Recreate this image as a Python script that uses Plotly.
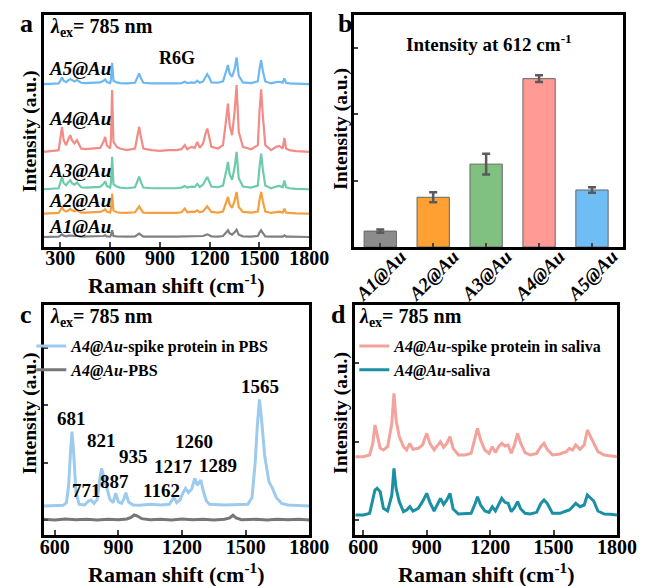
import plotly.graph_objects as go

FONT = "Liberation Serif"

# ---------------- Panel a: R6G spectra ----------------
shift_a = [200, 290, 300, 310, 320, 335, 350, 360, 370, 385, 400, 410, 425, 450, 500, 540, 560, 570, 580, 600,
           605, 612, 620, 640, 660, 700, 750, 765, 775, 785, 800, 850, 900, 950, 1000, 1030, 1050, 1065, 1090, 1110,
           1125, 1140, 1160, 1175, 1185, 1195, 1210, 1250, 1280, 1300, 1310, 1320, 1335, 1350, 1362, 1375, 1400, 1450,
           1490, 1500, 1510, 1520, 1535, 1570, 1590, 1600, 1620, 1640, 1650, 1660, 1680, 1720, 1800]
a5_int = [0, 2, 10, 20, 10, 6, 12, 15, 12, 8, 12, 8, 4, 3, 4, 5, 10, 14, 6, 3, 14, 64, 10, 5, 3, 2, 4, 20, 32, 18,
          4, 2, 1, 2, 2, 3, 7, 3, 5, 4, 10, 4, 8, 22, 30, 22, 5, 4, 8, 40, 57, 32, 22, 45, 80, 25, 5, 3, 8, 45,
          72, 40, 8, 2, 5, 6, 7, 4, 17, 4, 2, 1, 0]
a4_int = [0, 5, 40, 75, 35, 20, 40, 50, 35, 25, 35, 25, 10, 8, 10, 12, 30, 45, 20, 10, 40, 185, 30, 15, 10, 5, 10,
          45, 75, 45, 10, 5, 3, 5, 5, 8, 20, 8, 15, 12, 30, 12, 25, 55, 70, 50, 15, 10, 20, 100, 145, 80, 50, 120,
          200, 60, 15, 8, 20, 120, 187, 110, 20, 5, 12, 15, 18, 10, 42, 10, 5, 2, 0]
a3_int = [0, 3, 20, 37, 18, 12, 22, 27, 18, 14, 20, 13, 6, 5, 6, 7, 16, 24, 10, 5, 20, 97, 15, 8, 5, 3, 6, 25, 38,
          22, 5, 3, 2, 3, 3, 5, 10, 5, 8, 7, 16, 7, 14, 30, 37, 26, 8, 6, 11, 55, 82, 45, 28, 65, 112, 33, 8, 5, 11,
          65, 107, 60, 11, 3, 7, 8, 10, 6, 26, 6, 3, 1, 0]
a2_int = [0, 2, 10, 20, 10, 6, 10, 14, 10, 7, 10, 7, 3, 3, 4, 5, 9, 13, 6, 3, 13, 60, 9, 4, 3, 2, 4, 14, 22, 13, 3,
          2, 1, 2, 2, 4, 15, 4, 6, 5, 10, 4, 7, 16, 22, 15, 5, 3, 6, 35, 50, 28, 17, 38, 65, 20, 5, 3, 6, 40, 65, 37,
          6, 2, 4, 5, 6, 3, 15, 3, 2, 1, 0]
a1_int = [0, 1, 4, 8, 4, 2, 4, 5, 4, 3, 4, 3, 1, 1, 2, 2, 3, 5, 2, 1, 5, 20, 3, 2, 1, 1, 2, 6, 10, 6, 1, 1, 0, 1, 1,
          1, 3, 1, 2, 2, 3, 2, 3, 6, 8, 6, 2, 1, 3, 14, 20, 11, 7, 14, 22, 7, 2, 1, 3, 13, 20, 12, 2, 1, 1, 2, 2, 1,
          5, 1, 1, 0, 0]
a_names = ["A5@Au", "A4@Au", "A3@Au", "A2@Au", "A1@Au"]
a_offsets = [488, 285, 173, 100, 30]
a_colors = ["#6CB8F0", "#F28C86", "#6CCBA8", "#F5A040", "#808080"]
a_label_y = [535, 385, 230, 140, 60]

# ---------------- Panel b: bar chart ----------------
samples = ["A1@Au", "A2@Au", "A3@Au", "A4@Au", "A5@Au"]
intensity_612 = [0.24, 0.75, 1.25, 2.54, 0.86]
intensity_err = [0.025, 0.076, 0.157, 0.05, 0.04]
bar_colors = ["#8C8C8C", "#FFA033", "#80C080", "#FF9A94", "#6EBEF5"]

# ---------------- Panel c: spike protein in PBS ----------------
shift_c = [548, 600, 640, 655, 665, 675, 681, 688, 700, 715, 740, 760, 771, 785, 800, 812, 821, 830, 845, 860, 875,
           887, 900, 915, 925, 935, 948, 970, 1000, 1050, 1100, 1140, 1155, 1162, 1175, 1190, 1205, 1217, 1230, 1245,
           1260, 1272, 1289, 1300, 1315, 1330, 1400, 1480, 1510, 1530, 1545, 1555, 1565, 1575, 1590, 1610, 1625, 1645,
           1670, 1700, 1800]
spike_pbs = [0, 0, 2, 10, 60, 170, 223, 170, 40, 5, 3, 15, 18, 8, 20, 80, 113, 90, 55, 20, 10, 38, 12, 8, 20, 40, 12,
             3, 2, 5, 3, 5, 20, 26, 10, 18, 40, 53, 40, 50, 83, 62, 78, 45, 15, 5, 3, 3, 5, 25, 130, 240, 320, 260,
             150, 73, 55, 25, 8, 3, 0]
shift_pbs = [548, 600, 650, 700, 750, 800, 850, 900, 940, 960, 975, 990, 1010, 1050, 1100, 1150, 1200, 1250, 1300,
             1350, 1400, 1425, 1440, 1455, 1480, 1550, 1600, 1650, 1700, 1750, 1800]
pbs_only = [2, 0, 3, 1, 2, 0, 2, 1, 3, 8, 15, 12, 4, 1, 2, 0, 3, 1, 2, 0, 2, 6, 14, 6, 1, 2, 0, 2, 1, 2, 0]
c_offsets = [87, 45]
c_peak_labels = ["681", "771", "821", "887", "935", "1162", "1217", "1260", "1289", "1565"]
c_label_x = [678, 751, 820, 882, 973, 1105, 1161, 1256, 1370, 1569]
c_label_y = [350, 135, 285, 160, 235, 135, 205, 280, 210, 445]

# ---------------- Panel d: spike protein in saliva ----------------
shift_d = [562, 600, 630, 645, 655, 665, 680, 695, 715, 735, 745, 755, 770, 790, 805, 820, 835, 860, 880, 900, 915,
           935, 955, 965, 980, 995, 1010, 1025, 1050, 1080, 1110, 1130, 1140, 1155, 1175, 1195, 1210, 1225, 1240,
           1255, 1270, 1285, 1300, 1315, 1330, 1345, 1365, 1390, 1420, 1440, 1455, 1470, 1495, 1530, 1560, 1575,
           1590, 1605, 1625, 1645, 1660, 1675, 1690, 1710, 1740, 1770, 1800]
spike_saliva = [0, 0, 5, 40, 95, 70, 25, 20, 30, 100, 190, 110, 60, 30, 20, 40, 22, 25, 35, 70, 40, 20, 35, 45, 28,
                40, 60, 25, 5, 5, 10, 55, 85, 50, 20, 10, 30, 12, 30, 40, 32, 35, 10, 35, 70, 40, 12, 5, 10, 30, 40,
                22, 5, 8, 15, 25, 20, 35, 22, 35, 80, 60, 40, 15, 5, 3, 0]
saliva_only = [0, 0, 5, 50, 75, 80, 70, 20, 12, 60, 140, 80, 40, 10, 15, 25, 12, 20, 40, 65, 38, 12, 35, 50, 32, 45,
               65, 18, 3, 3, 5, 35, 55, 30, 12, 8, 25, 12, 30, 50, 38, 35, 10, 22, 40, 18, 5, 3, 8, 35, 45, 35, 5,
               5, 12, 15, 25, 35, 25, 30, 60, 50, 42, 12, 3, 2, 0]
d_offsets = [235, 60]

x_ticks_a = [300, 600, 900, 1200, 1500, 1800]
x_ticks_cd = [600, 900, 1200, 1500, 1800]

fig = go.Figure()

for name, vals, off, col in zip(a_names, [a5_int, a4_int, a3_int, a2_int, a1_int], a_offsets, a_colors):
    fig.add_trace(go.Scatter(x=shift_a, y=[v + off for v in vals], mode="lines", name=name,
                             line=dict(color=col, width=2.2), showlegend=False, xaxis="x", yaxis="y"))

fig.add_trace(go.Bar(x=samples, y=intensity_612, marker=dict(color=bar_colors, line=dict(color="#666666", width=1)),
                     width=0.61, error_y=dict(type="data", array=intensity_err, color="#5a5a5a", thickness=2.5, width=4),
                     showlegend=False, xaxis="x2", yaxis="y2"))

fig.add_trace(go.Scatter(x=shift_c, y=[v + c_offsets[0] for v in spike_pbs], mode="lines",
                         name="<i>A4@Au</i>-spike protein in PBS", line=dict(color="#9DCBEE", width=3),
                         legend="legend", xaxis="x3", yaxis="y3"))
fig.add_trace(go.Scatter(x=shift_pbs, y=[v + c_offsets[1] for v in pbs_only], mode="lines",
                         name="<i>A4@Au</i>-PBS", line=dict(color="#777777", width=3),
                         legend="legend", xaxis="x3", yaxis="y3"))

fig.add_trace(go.Scatter(x=shift_d, y=[v + d_offsets[0] for v in spike_saliva], mode="lines",
                         name="<i>A4@Au</i>-spike protein in saliva", line=dict(color="#F4A29C", width=3),
                         legend="legend2", xaxis="x4", yaxis="y4"))
fig.add_trace(go.Scatter(x=shift_d, y=[v + d_offsets[1] for v in saliva_only], mode="lines",
                         name="<i>A4@Au</i>-saliva", line=dict(color="#1B8FA3", width=3),
                         legend="legend2", xaxis="x4", yaxis="y4"))

# page body has an 8px margin: figure coordinates are reference pixels minus 8
OFF = 8
W, H = 659 - OFF, 586 - OFF
def fx(p):
    return (p - OFF) / W
def fy(p):
    return 1 - (p - OFF) / H
def dx(p0, p1):
    return [fx(p0), fx(p1)]
def dy(top, bottom):
    return [fy(bottom), fy(top)]

tickfont = dict(family=FONT, size=20, color="black", weight="bold")
box = dict(showline=True, linecolor="black", linewidth=3, mirror=True, showgrid=False, zeroline=False)
legfont = dict(family=FONT, size=16, color="black", weight="bold")

fig.update_layout(
    width=W, height=H, margin=dict(l=0, r=0, t=0, b=0),
    paper_bgcolor="white", plot_bgcolor="white",
    font=dict(family=FONT, color="black"),
    xaxis=dict(domain=dx(38, 315), anchor="y", range=[200, 1800], tickvals=x_ticks_a, ticks="inside",
               ticklen=5, tickwidth=2, tickfont=tickfont, ticklabelstandoff=-9, **box),
    yaxis=dict(domain=dy(15, 247), anchor="x", range=[0, 695], showticklabels=False, ticks="", **box),
    xaxis2=dict(domain=dx(362, 642), anchor="y2", range=[-0.49, 4.58], ticks="inside", ticklen=4, tickwidth=2,
                tickvals=samples, showticklabels=False, **box),
    yaxis2=dict(domain=dy(15, 247), anchor="x2", range=[0, 3.5], tickvals=[1, 2, 3], ticks="inside", ticklen=4,
                tickwidth=2, showticklabels=False, **box),
    xaxis3=dict(domain=dx(38, 315), anchor="y3", range=[548, 1800], tickvals=x_ticks_cd, ticks="inside",
                ticklen=5, tickwidth=2, tickfont=tickfont, ticklabelstandoff=-8, **box),
    yaxis3=dict(domain=dy(305, 535), anchor="x3", range=[0, 690], tickvals=[45, 217, 389, 561], ticks="inside",
                ticklen=4, tickwidth=2, showticklabels=False, **box),
    xaxis4=dict(domain=dx(363, 636), anchor="y4", range=[562, 1800], tickvals=x_ticks_cd, ticks="inside",
                ticklen=5, tickwidth=2, tickfont=tickfont, ticklabelstandoff=-8, **box),
    yaxis4=dict(domain=dy(305, 535), anchor="x4", range=[0, 690], tickvals=[45, 280, 515], ticks="inside",
                ticklen=4, tickwidth=2, showticklabels=False, **box),
    legend=dict(x=fx(25), y=fy(329), xanchor="left", yanchor="top", bgcolor="rgba(0,0,0,0)",
                font=legfont, itemwidth=30, tracegroupgap=0, borderwidth=0),
    legend2=dict(x=fx(362), y=fy(329), xanchor="left", yanchor="top", bgcolor="rgba(0,0,0,0)",
                 font=legfont, itemwidth=30, tracegroupgap=0, borderwidth=0),
)

ann = []
def add_text(text, x, y, size, xref="paper", yref="paper", xanchor="center", yanchor="middle", angle=0):
    ann.append(dict(text=text, x=x, y=y, xref=xref, yref=yref, xanchor=xanchor, yanchor=yanchor,
                    showarrow=False, textangle=angle, font=dict(family=FONT, size=size, color="black")))

# panel letters
add_text("<b>a</b>", fx(20), fy(24), 26)
add_text("<b>b</b>", fx(352), fy(24), 26)
add_text("<b>c</b>", fx(19), fy(314), 26)
add_text("<b>d</b>", fx(346), fy(314), 26)

lam = "<b><i>λ</i><sub>ex</sub>= 785 nm</b>"
add_text(lam, 0.015, 0.945, 20, xref="x domain", yref="y domain", xanchor="left")
add_text(lam, 0.015, 0.945, 20, xref="x3 domain", yref="y3 domain", xanchor="left")
add_text(lam, 0.008, 0.945, 20, xref="x4 domain", yref="y4 domain", xanchor="left")
add_text("<b>R6G</b>", 0.50, 0.815, 18, xref="x domain", yref="y domain")
add_text("<b>Intensity at 612 cm<sup>-1</sup></b>", 0.5, 0.88, 19, xref="x2 domain", yref="y2 domain")

for name, ly in zip(a_names, a_label_y):
    add_text("<b><i>" + name + "</i></b>", 222, ly, 19, xref="x", yref="y", xanchor="left")

# rotated category labels of panel b, centred under each bar
for s in samples:
    add_text("<b><i>" + s + "</i></b>", s, fy(275), 19, xref="x2", angle=-45)

for t, lx, ly in zip(c_peak_labels, c_label_x, c_label_y):
    add_text("<b>" + t + "</b>", lx, ly, 19, xref="x3", yref="y3")

xt = "<b>Raman shift (cm<sup>-1</sup>)</b>"
yt = "<b>Intensity (a.u.)</b>"
add_text(xt, fx(177), fy(284), 22)
add_text(xt, fx(177), fy(573), 22)
add_text(xt, fx(500), fy(573), 22)
add_text(yt, fx(24), fy(131), 19.5, angle=-90)
add_text(yt, fx(348), fy(129), 19.5, angle=-90)
add_text(yt, fx(24), fy(413), 19.5, angle=-90)
add_text(yt, fx(348), fy(413), 19.5, angle=-90)

fig.update_layout(annotations=ann)
fig.write_html("out.html")
